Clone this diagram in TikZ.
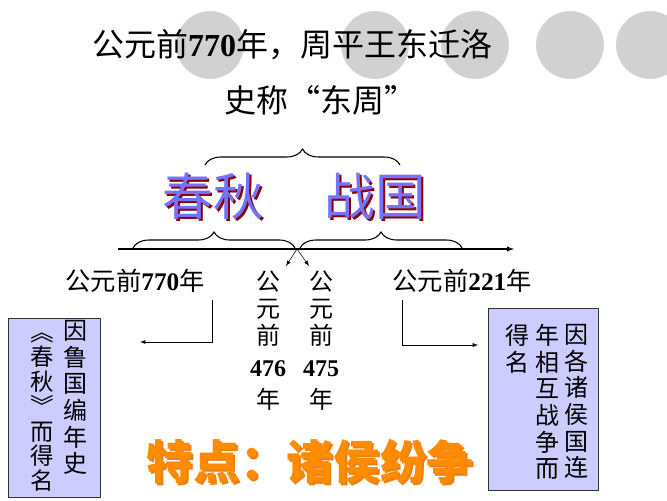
\documentclass[tikz,border=0pt]{standalone}
\usepackage{fontspec}
\setmainfont{Liberation Serif}
\newfontfamily\cjk{Noto Sans CJK SC}
\usetikzlibrary{positioning, arrows, decorations.pathreplacing}
\newcommand\vmark[1]{\makebox[1em][c]{\rotatebox[origin=c]{-90}{#1}}}

\begin{document}
\begin{tikzpicture}[
  x = 0.75pt, y = -0.75pt,
  deco/.style = {
    fill = black!18,
    draw = white,
    line width = 3pt
  },
  brace/.style = {
    decorate,
    decoration = {brace, amplitude = 12pt},
    black,
    thick
  },
  label/.style = {
    font = \cjk\fontsize{19}{21}\selectfont,
    inner sep = 0pt
  },
  column/.style = {
    font = \cjk\fontsize{18}{20}\selectfont,
    align = center,
    inner sep = 0pt
  },
  period/.style = {
    font = \cjk\fontsize{38}{40}\selectfont,
    inner sep = 0pt
  },
  namebox/.style = {
    draw = black!80,
    fill = blue!20
  },
  connection/.style = {
    -latex,
    black,
    thick
  },
  ]
  \useasboundingbox (0, 0) rectangle (667, 500);

  % Decorative circles.
  \foreach \cx in {210, 375, 475, 570, 650} {
    \draw[deco] (\cx, 45) circle (36);
  }

  % Title lines.
  \node[label, font = \cjk\fontsize{24}{26}\selectfont] (title) at (292, 45)
    {公元前{\bfseries\rmfamily 770}年，周平王东迁洛};
  \node[label, font = \cjk\fontsize{24}{26}\selectfont] (east) at (320, 100)
    {史称“东周”};

  % Braces.
  \draw[brace] (205, 165) -- (400, 165);
  \draw[brace] (133, 248) -- (295, 248);
  \draw[brace] (300, 248) -- (462, 248);

  % Period names.
  \foreach \txt/\px in {春秋/213, 战国/375} {
    \node[period, text = red!55!black] at (\px + 2, 198) {\txt};
    \node[period, text = blue!55] at (\px, 196) {\txt};
  }

  % Time axis.
  \coordinate (A0) at (118, 249);
  \coordinate (A1) at (514, 249);
  \draw[-latex, thick] (A0) -- (A1);
  \coordinate (S) at (297, 249);
  \coordinate (L) at (286, 266);
  \coordinate (R) at (309, 266);
  \draw[-latex] (S) -- (L);
  \draw[-latex] (S) -- (R);

  % Dates.
  \node[label] (d770) at (135, 281) {公元前{\bfseries\rmfamily 770}年};
  \node[label] (d221) at (462, 281) {公元前{\bfseries\rmfamily 221}年};
  \node[column, anchor = north] (d476) at (268, 271)
    {公\\元\\前\\[4pt]{\bfseries\rmfamily 476}\\[4pt]年};
  \node[column, anchor = north] (d475) at (321, 271)
    {公\\元\\前\\[4pt]{\bfseries\rmfamily 475}\\[4pt]年};

  % Name boxes.
  \draw[namebox] (8, 318) rectangle (100, 497);
  \draw[namebox] (488, 308) rectangle (598, 490);
  \node[column, anchor = north] (spring1) at (75, 320) {因\\鲁\\国\\编\\年\\史};
  \node[column, anchor = north, font = \cjk\fontsize{17.5}{18.6}\selectfont] (spring2) at (42, 320)
    {\vmark{《}\\春\\秋\\\vmark{》}\\而\\得\\名};
  \node[column, anchor = north] (war1) at (576, 324) {因\\各\\诸\\侯\\国\\连};
  \node[column, anchor = north] (war2) at (547, 324) {年\\相\\互\\战\\争\\而};
  \node[column, anchor = north] (war3) at (517, 324) {得\\名};

  % Connectors to boxes.
  \coordinate (lt) at (212, 300);
  \coordinate (lb) at (140, 342);
  \coordinate (rt) at (402, 300);
  \coordinate (rb) at (478, 345);
  \draw[connection, thin] (lt) |- (lb);
  \draw[connection, thin] (rt) |- (rb);

  % Feature line.
  \node[font = \cjk\bfseries\fontsize{35}{38}\selectfont, text = orange!70!brown] at (312, 464)
    {特点：诸侯纷争};
  \node[font = \cjk\bfseries\fontsize{35}{38}\selectfont, text = orange!90!yellow] (feature) at (310, 462)
    {特点：诸侯纷争};
\end{tikzpicture}
\end{document}
